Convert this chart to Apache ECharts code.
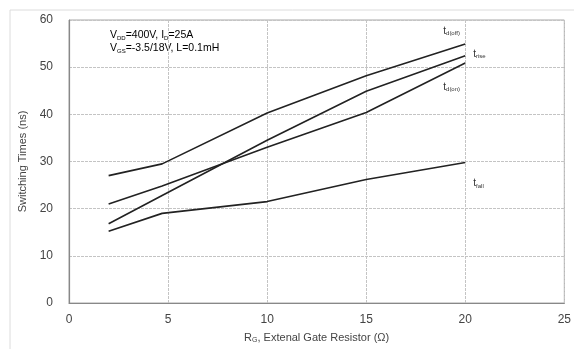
<!DOCTYPE html>
<html>
<head>
<meta charset="utf-8">
<script src="https://cdn.jsdelivr.net/npm/echarts@6/dist/echarts.min.js"></script>
<style>
  html, body { margin: 0; padding: 0; background: #fff; }
  #chart { width: 574px; height: 349px; }
</style>
</head>
<body>
<div id="chart"></div>
<script>
// Gate resistance (Ω) at which the switching times were measured
const gateResistance = [2, 4.7, 10, 15, 20];

// Switching times (ns)
const tdOff = [27.0, 29.5, 40.3, 48.2, 54.9];
const tRise = [16.8, 22.8, 34.5, 44.9, 52.4];
const tdOn  = [21.0, 24.8, 33.0, 40.4, 50.9];
const tFall = [15.2, 19.0, 21.5, 26.2, 29.8];

const xTicks = [0, 5, 10, 15, 20, 25];
const yTicks = [0, 10, 20, 30, 40, 50, 60];

const labelFont = 'Liberation Sans, Arial, sans-serif';
const richStyles = {
  m: { fontSize: 10, color: '#333', fontFamily: labelFont },
  s: { fontSize: 6, color: '#333', fontFamily: labelFont, padding: [5, 0, 0, 0] }
};

function curve(name, ys, labelText, offset) {
  return {
    name: name,
    type: 'line',
    data: gateResistance.map((x, i) => [x, ys[i]]),
    symbol: 'none',
    lineStyle: { color: '#222', width: 1.6 },
    endLabel: {
      show: true,
      formatter: labelText,
      offset: offset,
      rich: richStyles
    },
    emphasis: { disabled: true },
    silent: true,
    z: 3
  };
}

const gridLine = { color: '#c4c4c4', width: 1, type: [3, 1] };

const chart = echarts.init(document.getElementById('chart'), null, { renderer: 'canvas' });

chart.setOption({
  animation: false,
  backgroundColor: '#fff',
  grid: {
    left: 69, right: 8, top: 20, bottom: 44, containLabel: false,
    show: true, backgroundColor: 'transparent', borderColor: '#a8a8a8', borderWidth: 1
  },
  xAxis: {
    type: 'value',
    min: 0, max: 25, interval: 5,
    name: '{m|R}{s|G}{m|, Extenal Gate Resistor (Ω)}',
    nameLocation: 'middle',
    nameGap: 28,
    nameTextStyle: {
      rich: {
        m: { fontSize: 11, color: '#444', fontFamily: labelFont },
        s: { fontSize: 7, color: '#444', fontFamily: labelFont, padding: [6, 0, 0, 0] }
      }
    },
    axisLine: { show: true, lineStyle: { color: '#888', width: 1.2 } },
    axisTick: { show: false },
    axisLabel: {
      color: '#444', fontSize: 12, fontFamily: labelFont, margin: 11,
      formatter: v => xTicks.includes(v) ? String(v) : ''
    },
    splitLine: { show: true, lineStyle: gridLine }
  },
  yAxis: {
    type: 'value',
    min: 0, max: 60, interval: 10,
    name: 'Switching Times (ns)',
    nameLocation: 'middle',
    nameGap: 38,
    nameTextStyle: { color: '#444', fontSize: 11, fontFamily: labelFont },
    axisLine: { show: true, lineStyle: { color: '#888', width: 1.2 } },
    axisTick: { show: false },
    axisLabel: {
      color: '#444', fontSize: 12, fontFamily: labelFont, margin: 16,
      formatter: v => yTicks.includes(v) ? String(v) : ''
    },
    splitLine: { show: true, lineStyle: gridLine }
  },
  series: [
    curve('td(off)', tdOff, '{m|t}{s|d(off)}', [-30, -13]),
    curve('trise', tRise, '{m|t}{s|rise}', [0, -2]),
    curve('td(on)', tdOn, '{m|t}{s|d(on)}', [-30, 24]),
    curve('tfall', tFall, '{m|t}{s|fall}', [0, 21])
  ],
  graphic: [
    {
      type: 'rect',
      shape: { x: 10, y: 10, width: 600, height: 400 },
      style: { fill: 'none', stroke: '#dcdcdc', lineWidth: 1 },
      silent: true, z: -1
    },
    {
      type: 'text',
      left: 110, top: 30,
      style: {
        text: '{m|V}{s|DD}{m|=400V, I}{s|D}{m|=25A}\n{m|V}{s|GS}{m|=-3.5/18V, L=0.1mH}',
        rich: {
          m: { fontSize: 10.5, color: '#444', fontFamily: labelFont, lineHeight: 13 },
          s: { fontSize: 6, color: '#444', fontFamily: labelFont, lineHeight: 13, padding: [5, 0, 0, 0] }
        }
      },
      silent: true
    }
  ]
});
</script>
</body>
</html>
